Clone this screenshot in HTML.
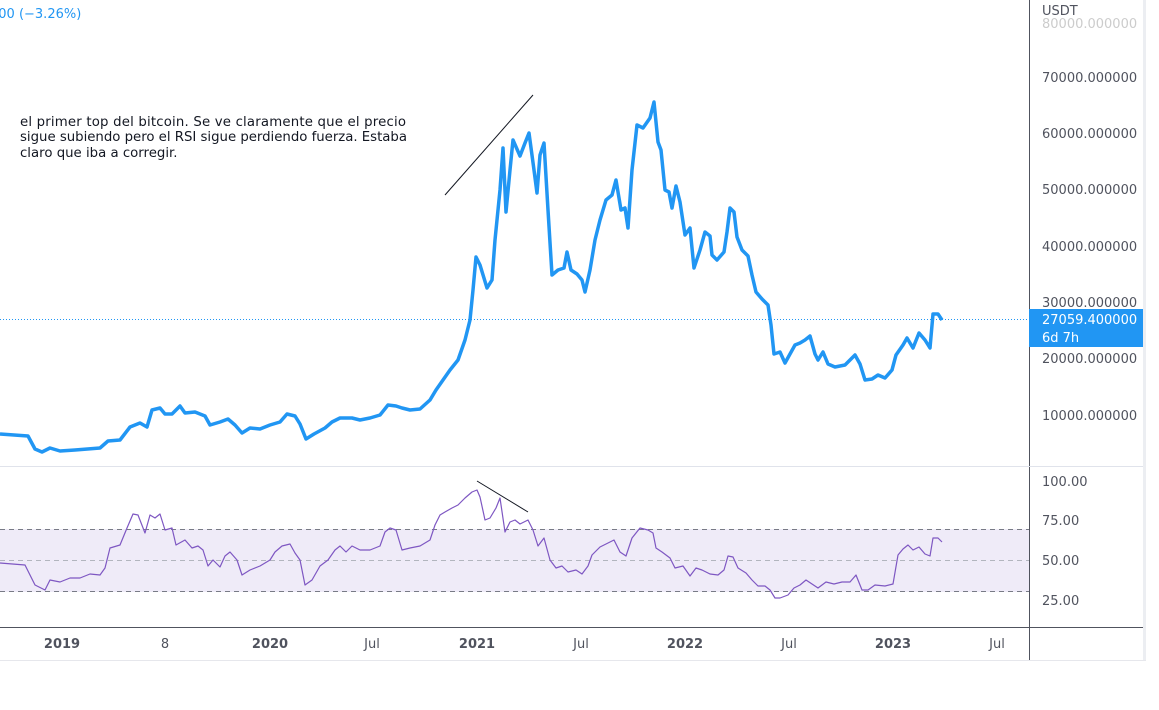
<!DOCTYPE html><html><head><style>body{margin:0;background:#fff;width:1159px;height:705px;overflow:hidden;font-family:"Liberation Sans","DejaVu Sans",sans-serif}</style></head><body>
<svg width="1159" height="705" xmlns="http://www.w3.org/2000/svg" font-family="DejaVu Sans, Liberation Sans, sans-serif">
<rect x="1143" y="0" width="3" height="661" fill="#eceef2"/>
<line x1="0" y1="660.5" x2="1146" y2="660.5" stroke="#e6e7ec"/>
<line x1="1029.5" y1="0" x2="1029.5" y2="660" stroke="#50535e"/>
<line x1="0" y1="466.5" x2="1143" y2="466.5" stroke="#e0e3eb"/>
<line x1="0" y1="627.5" x2="1143" y2="627.5" stroke="#50535e"/>
<rect x="0" y="529" width="1029" height="63" fill="#efebf8"/>
<g stroke="#787b86" stroke-dasharray="5,4"><line x1="0" y1="529.5" x2="1029" y2="529.5"/><line x1="0" y1="591.5" x2="1029" y2="591.5"/></g>
<line x1="0" y1="560.5" x2="1029" y2="560.5" stroke="#b2b5be" stroke-dasharray="5,4"/>
<line x1="0" y1="319.5" x2="1029" y2="319.5" stroke="#2196f3" stroke-dasharray="1,2"/>
<g font-size="13" fill="#50535e">
<text x="1042" y="15">USDT</text>
<text x="1042" y="28" fill="#ccc">80000.000000</text>
<text x="1042" y="82">70000.000000</text><text x="1042" y="138">60000.000000</text><text x="1042" y="194">50000.000000</text><text x="1042" y="251">40000.000000</text><text x="1042" y="307">30000.000000</text><text x="1042" y="363">20000.000000</text><text x="1042" y="420">10000.000000</text>
<text x="1042" y="486">100.00</text><text x="1042" y="525">75.00</text><text x="1042" y="565">50.00</text><text x="1042" y="605">25.00</text>
</g>
<rect x="1029" y="309" width="114" height="38" fill="#2196f3"/>
<text x="1042" y="324" font-size="13" fill="#fff">27059.400000</text><text x="1042" y="342" font-size="13" fill="#fff">6d 7h</text>
<g font-size="13" fill="#50535e" text-anchor="middle">
<text x="62" y="648" font-weight="bold">2019</text><text x="165" y="648">8</text><text x="270" y="648" font-weight="bold">2020</text><text x="372" y="648">Jul</text><text x="477" y="648" font-weight="bold">2021</text><text x="581" y="648">Jul</text><text x="685" y="648" font-weight="bold">2022</text><text x="789" y="648">Jul</text><text x="893" y="648" font-weight="bold">2023</text><text x="997" y="648">Jul</text>
</g>
<text x="-10" y="18" font-size="13" fill="#2196f3">000 (−3.26%)</text>
<g font-size="13.3" fill="#131722"><text x="20" y="126" textLength="386">el primer top del bitcoin. Se ve claramente que el precio</text><text x="20" y="141" textLength="387">sigue subiendo pero el RSI sigue perdiendo fuerza. Estaba</text><text x="20" y="157">claro que iba a corregir.</text></g>
<line x1="445" y1="195" x2="533" y2="95" stroke="#131722"/>
<line x1="477" y1="481" x2="528" y2="512" stroke="#131722"/>
<polyline fill="none" stroke="#2196f3" stroke-width="3.5" stroke-linejoin="round" points="0,434 28,436 35,449 42,452 50,448 60,451 75,450 100,448 108,441 120,440 130,427 140,423 147,427 152,410 160,408 165,414 172,414 180,406 185,413 195,412 205,416 210,425 220,422 228,419 235,425 242,433 250,428 260,429 270,425 280,422 287,414 295,416 300,424 306,439 314,434 325,428 332,422 340,418 346,418 352,418 360,420 370,418 380,415 388,405 396,406 402,408 410,410 420,409 430,400 436,390 443,380 450,370 458,360 465,340 470,320 473,290 476,257 480,265 487,288 492,280 495,240 500,190 503,148 506,212 510,170 513,140 520,156 525,143 529,133 534,170 537,193 540,155 544,143 548,210 552,275 558,270 564,268 567,252 571,270 577,274 582,280 585,292 590,270 595,240 600,220 606,200 612,195 616,180 621,210 625,208 628,228 632,170 637,125 643,128 650,118 654,102 658,142 661,150 665,190 669,192 672,208 676,186 680,202 685,235 690,228 694,268 700,250 705,232 710,236 712,255 717,260 724,252 727,232 730,208 734,212 737,237 742,250 748,256 752,275 756,292 762,299 768,305 771,325 774,354 780,352 785,363 790,354 795,345 800,343 805,340 810,336 815,354 818,360 823,352 828,364 835,367 845,365 855,355 860,364 865,380 872,379 878,375 885,378 892,370 896,355 903,345 907,338 913,348 919,333 925,340 930,348 933,314 938,314 942,320"/>
<polyline fill="none" stroke="#7e57c2" stroke-width="1.2" stroke-linejoin="round" points="0,563 25,565 35,585 45,590 50,580 60,582 70,578 80,578 90,574 100,575 105,568 110,548 120,545 127,528 133,514 138,515 145,533 150,515 155,518 160,514 165,530 172,528 176,545 185,540 192,548 198,546 203,550 208,566 213,560 220,567 225,556 230,552 237,560 242,575 250,570 260,566 270,560 275,552 282,546 290,544 295,553 300,560 305,585 312,580 320,566 328,560 335,550 340,546 346,552 352,546 360,550 370,550 380,546 385,532 390,528 396,530 402,550 410,548 420,546 430,540 435,525 440,515 445,512 452,508 458,505 465,498 472,492 477,490 480,497 485,520 490,518 496,508 500,498 505,532 510,522 515,520 520,524 528,520 533,530 538,546 544,538 550,560 556,568 562,566 568,572 576,570 582,574 588,566 592,555 600,547 608,543 614,540 620,552 626,556 632,538 640,528 648,530 653,533 656,548 662,552 670,558 675,568 683,566 690,576 696,568 702,570 710,574 718,575 724,570 728,556 733,557 738,568 746,573 752,580 758,586 765,586 770,590 775,598 780,598 788,595 794,588 800,585 806,580 812,584 818,588 826,582 834,584 842,582 850,582 856,575 862,590 868,590 875,585 885,586 893,584 898,555 903,549 908,545 913,550 919,547 925,554 930,556 933,538 938,538 942,542"/>
</svg></body></html>
